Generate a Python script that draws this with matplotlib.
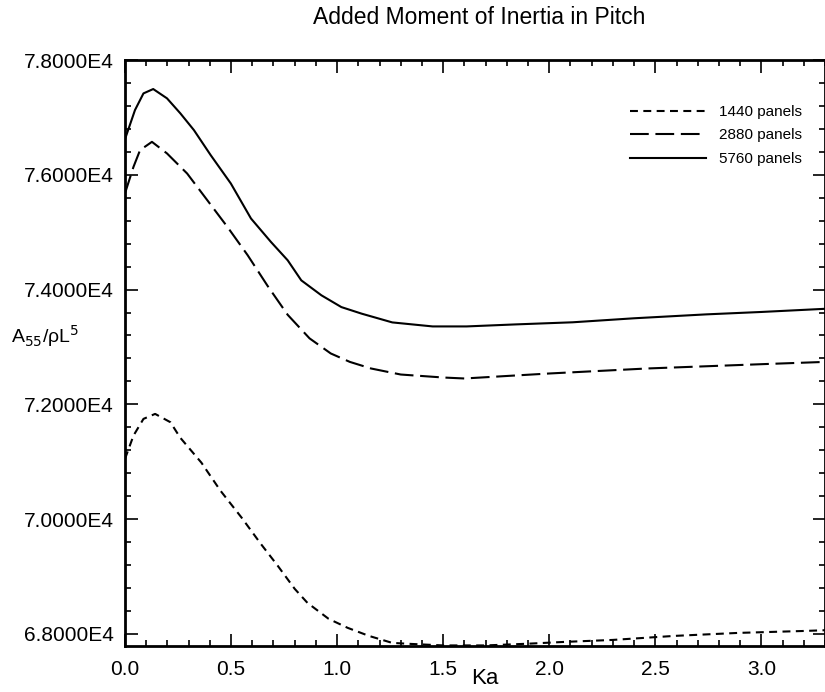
import matplotlib
matplotlib.use("Agg")
import matplotlib.pyplot as plt
from matplotlib.ticker import MultipleLocator, FixedLocator

plt.rcParams['font.family'] = ['Liberation Sans', 'DejaVu Sans']

title = "Added Moment of Inertia in Pitch"
xlabel = "Ka"
ylabel = "A$_{55}$/ρL$^{5}$"
series_labels = ["1440 panels", "2880 panels", "5760 panels"]

ka_1440 = [0.0, 0.04, 0.087, 0.142, 0.214, 0.26, 0.36, 0.45, 0.55, 0.64, 0.72, 0.80, 0.86, 0.96,
           1.05, 1.15, 1.26, 1.35, 1.5, 1.7, 1.9, 2.07, 2.30, 2.59, 2.89, 3.21, 3.3]
a55_1440 = [71050, 71456, 71747, 71834, 71689, 71421, 70985, 70496, 70025, 69571, 69188, 68786, 68542, 68263,
            68106, 67966, 67844, 67826, 67800, 67800, 67830, 67861, 67896, 67966, 68018, 68053, 68065]

ka_2880 = [0.0, 0.04, 0.071, 0.127, 0.198, 0.293, 0.388, 0.483, 0.578, 0.673, 0.767, 0.87,
           0.97, 1.06, 1.16, 1.3, 1.5, 1.6, 2.0, 2.46, 3.0, 3.3]
a55_2880 = [75678, 76138, 76430, 76574, 76372, 76022, 75557, 75091, 74600, 74060, 73560, 73150,
            72887, 72740, 72625, 72520, 72468, 72451, 72538, 72625, 72700, 72740]

ka_5760 = [0.0, 0.047, 0.087, 0.133, 0.198, 0.261, 0.325, 0.404, 0.499, 0.594, 0.688, 0.767, 0.831,
           0.926, 1.02, 1.116, 1.26, 1.45, 1.61, 1.84, 2.11, 2.40, 2.74, 3.0, 3.3]
a55_5760 = [76620, 77127, 77418, 77494, 77332, 77070, 76778, 76342, 75848, 75238, 74830, 74510, 74161,
            73900, 73695, 73580, 73428, 73358, 73358, 73393, 73430, 73500, 73568, 73610, 73665]

x_ticks = [0.0, 0.5, 1.0, 1.5, 2.0, 2.5, 3.0]
x_tick_labels = ["0.0", "0.5", "1.0", "1.5", "2.0", "2.5", "3.0"]
y_ticks = [68000, 70000, 72000, 74000, 76000, 78000]
y_tick_labels = ["6.8000E4", "7.0000E4", "7.2000E4", "7.4000E4", "7.6000E4", "7.8000E4"]

W, H = 825, 692
fig = plt.figure(figsize=(W / 100, H / 100), dpi=100)
L, R, T, B = 125, 825, 60, 646
ax = fig.add_axes([L / W, 1 - B / H, (R - L) / W, (B - T) / H])

lw = 1.5
ax.plot(ka_1440, a55_1440, color='black', lw=lw, dashes=(3.8, 2.6), label=series_labels[0])
ax.plot(ka_2880, a55_2880, color='black', lw=lw, dashes=(9.0, 3.2), label=series_labels[1])
ax.plot(ka_5760, a55_5760, color='black', lw=lw, label=series_labels[2])

ax.set_xlim(0, 3.3)
ax.set_ylim(67790, 78000)

ax.xaxis.set_major_locator(FixedLocator(x_ticks))
ax.set_xticklabels(x_tick_labels)
ax.xaxis.set_minor_locator(MultipleLocator(0.1))
ax.yaxis.set_major_locator(FixedLocator(y_ticks))
ax.set_yticklabels(y_tick_labels)
ax.yaxis.set_minor_locator(MultipleLocator(400))

ax.tick_params(which='both', direction='in', top=True, right=True, width=1.2, colors='black')
ax.tick_params(which='major', length=9)
ax.tick_params(which='minor', length=4.5)
ax.tick_params(axis='y', which='major', pad=8, labelsize=15)
ax.tick_params(axis='x', which='major', pad=10, labelsize=15)
for s in ax.spines.values():
    s.set_linewidth(2.0)

fig.text(479 / W, 1 - 18 / H, title, ha='center', va='center', fontsize=16.5)
fig.text(485 / W, 1 - 679 / H, xlabel, ha='center', va='center', fontsize=16)
fig.text(45 / W, 1 - 336 / H, ylabel, ha='center', va='center', fontsize=14)

ax.legend(loc='upper left', bbox_to_anchor=((630 - L) / (R - L), (B - 105) / (B - T)),
          frameon=False, fontsize=11, handlelength=5.0, handletextpad=0.85,
          labelspacing=0.62, borderpad=0, borderaxespad=0)

fig.savefig("out.png", dpi=100)
